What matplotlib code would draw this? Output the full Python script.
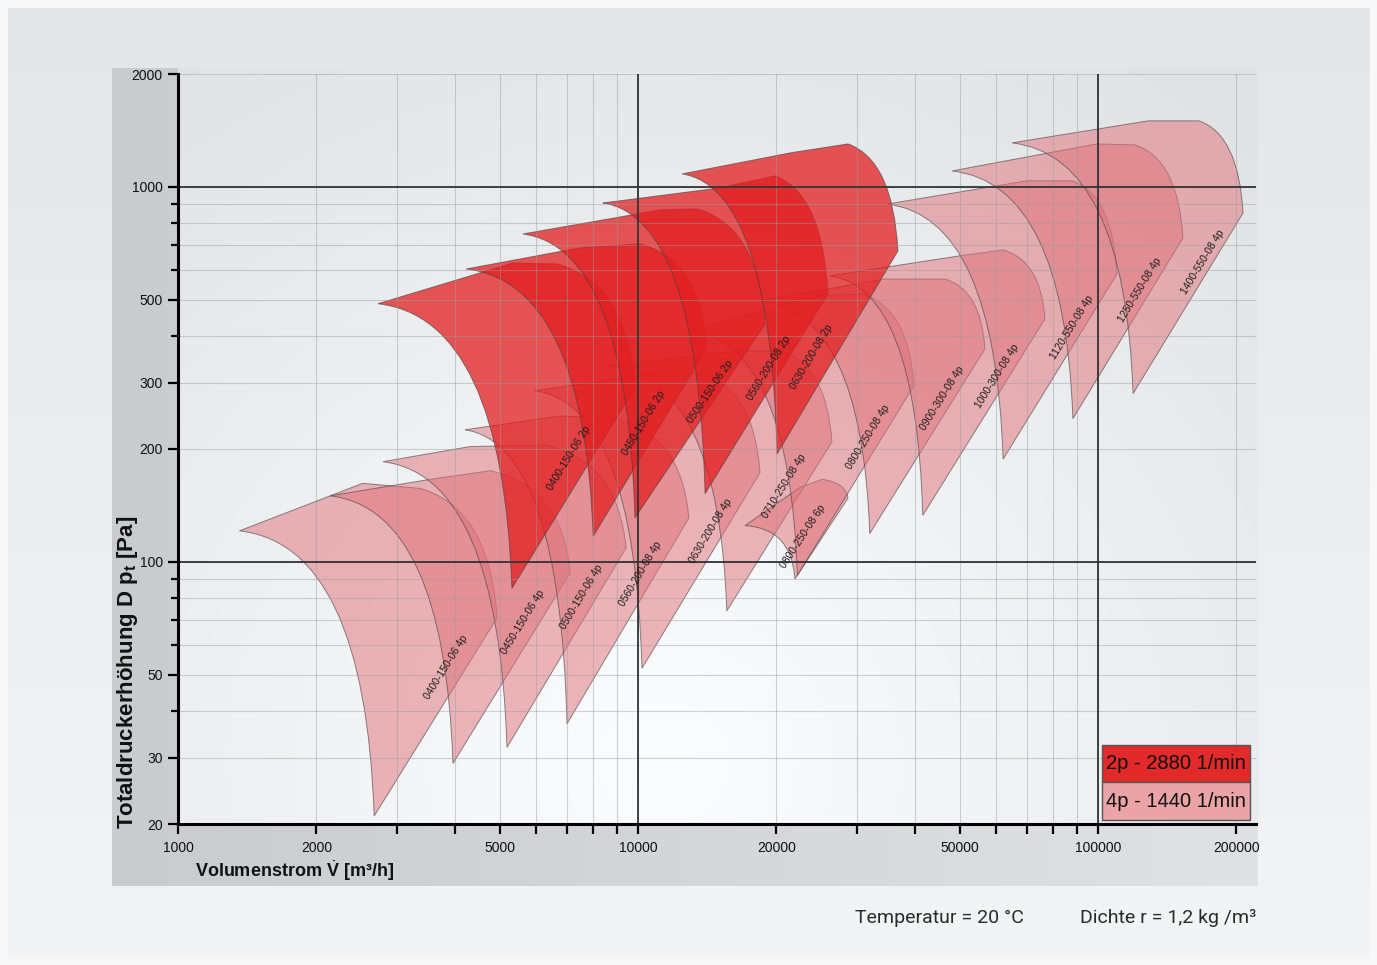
"""
Fan selection chart: working areas of the 150/200/250/300/550 series,
2-pole and 4-pole, on a log-log flow / pressure grid.
"""

import numpy as np
import matplotlib
matplotlib.use("Agg")
import matplotlib.pyplot as plt
from matplotlib.path import Path
from matplotlib.patches import PathPatch, Rectangle
from matplotlib.ticker import FixedLocator, FixedFormatter, NullFormatter

plt.rcParams["font.family"] = ["Liberation Sans", "DejaVu Sans"]
plt.rcParams["mathtext.fontset"] = "custom"
plt.rcParams["mathtext.rm"] = "Liberation Sans"
plt.rcParams["mathtext.bf"] = "Liberation Sans:bold"
plt.rcParams["mathtext.it"] = "Liberation Sans:italic"

W, H = 1377, 965

# ── fan working areas: volume flow [m³/h], total pressure [Pa] ──
# each area: left tip, top, end of top, knee, bottom tip
NAMES_4P = ["0400-150-06 4p", "0450-150-06 4p", "0500-150-06 4p",
            "0560-200-08 4p", "0630-200-08 4p", "0710-250-08 4p",
            "0800-250-08 6p", "0800-250-08 4p", "0900-300-08 4p",
            "1000-300-08 4p", "1120-550-08 4p", "1250-550-08 4p",
            "1400-550-08 4p"]
LEFT_4P = [(1360, 121), (2140, 150), (2790, 185), (4210, 225), (5970, 286),
           (8690, 333), (17090, 125), (12970, 413), (18420, 497),
           (26150, 579), (34800, 900), (48150, 1103), (65000, 1310)]
TOP_4P = [(2520, 162), (3530, 166), (4310, 203), (6770, 245), (11160, 319),
          (16250, 365), (22500, 158), (24250, 512), (34400, 568),
          (50100, 655), (70100, 1038), (99500, 1302), (128500, 1500)]
TOPEND_4P = [(3360, 157), (4770, 175), (6280, 205), (8910, 241), (13640, 319),
             (20360, 365), (25120, 166), (30700, 518), (46500, 568),
             (62200, 679), (87800, 1038), (120300, 1294), (165800, 1500)]
KNEE_4P = [(4940, 71), (7120, 93.5), (9420, 109), (12900, 131), (18420, 173),
           (26400, 209), (28610, 148), (39800, 295), (56800, 370),
           (76700, 445), (110000, 586), (153000, 731), (206700, 852)]
TIP_4P = [(2670, 21), (3960, 29), (5190, 32), (7010, 37), (10200, 52),
          (15600, 74), (21940, 90), (22200, 92), (31900, 119),
          (41600, 133), (62200, 188), (88200, 241), (119200, 281)]

NAMES_2P = ["0400-150-06 2p", "0450-150-06 2p", "0500-150-06 2p",
            "0560-200-08 2p", "0630-200-08 2p"]
LEFT_2P = [(2720, 488), (4230, 604), (5620, 749), (8390, 906), (12470, 1083)]
TOP_2P = [(5350, 627), (7480, 688), (11160, 868), (15080, 994), (21400, 1232)]
TOPEND_2P = [(6670, 623), (10100, 705), (13440, 874), (19860, 1070),
             (28610, 1302)]
KNEE_2P = [(9850, 291), (14130, 372), (18890, 431), (25880, 519), (36740, 675)]
TIP_2P = [(5320, 85), (7990, 117), (9850, 131), (13990, 152), (20060, 194)]

X_TICKS = [1000, 2000, 5000, 10000, 20000, 50000, 100000, 200000]
X_MINOR = [3000, 4000, 6000, 7000, 8000, 9000,
           30000, 40000, 60000, 70000, 80000, 90000]
Y_TICKS = [20, 30, 50, 100, 200, 300, 500, 1000, 2000]
Y_MINOR = [40, 60, 70, 80, 90, 400, 600, 700, 800, 900]
DECADES_X = [10000, 100000]
DECADES_Y = [100, 1000]

LEGEND = ["2p - 2880 1/min", "4p - 1440 1/min"]
NOTE_T = "Temperatur = 20 °C"
NOTE_D = "Dichte r = 1,2 kg /m³"

# label placement along the knee -> tip edge (fraction, shift left in px)
LABEL_T_4P = [0.25, 0.26, 0.245, 0.27, 0.30, 0.26, 0.475, 0.27, 0.27,
              0.29, 0.29, 0.29, 0.27]
LABEL_DX_4P = [20, 17, 15, 16, 14, 20, 20, 14, 12, 12, 12, 11, 11]
LABEL_T_2P = [0.35, 0.40, 0.35, 0.37, 0.52]
LABEL_DX_2P = [23, 18, 9, 14, 24]

PINK = (0.88, 0.44, 0.47, 0.50)
RED = (0.886, 0.118, 0.125, 0.75)
EDGE = (0.25, 0.25, 0.25, 0.6)


def fan_patch(left, top, top_end, knee, tip, face):
    lx, ly = np.log10(left)
    tx, ty = np.log10(top_end)
    kx, ky = np.log10(knee)
    bx, by = np.log10(tip)
    c_right = (10 ** (tx + 0.9 * (kx - tx)), 10 ** (ty + 0.15 * (ky - ty)))
    c_left = (10 ** (bx - 0.07 * (bx - lx)), 10 ** (ly + 0.05 * (by - ly)))
    verts = [left, top, top_end, c_right, knee, tip, c_left, left, left]
    codes = [Path.MOVETO, Path.LINETO, Path.LINETO, Path.CURVE3, Path.CURVE3,
             Path.LINETO, Path.CURVE3, Path.CURVE3, Path.CLOSEPOLY]
    return PathPatch(Path(verts, codes), facecolor=face, edgecolor=EDGE,
                     lw=0.7, zorder=1)


fig = plt.figure(figsize=(W / 100, H / 100), dpi=100)
fig.patch.set_facecolor("#f8f8f8")

# ── background panels ──
bg = fig.add_axes([0, 0, 1, 1])
yy = np.linspace(0, 1, 256)[:, None]
xx = np.linspace(0, 1, 256)[None, :]


def rgb(v):
    v = np.clip(v, 0, 255)
    return np.dstack([v, v + 1, v + 2]).clip(0, 255) / 255


bg.imshow(rgb(229 + 14 * yy + 0 * xx), extent=(8, 1370, 957, 8),
          aspect="auto", interpolation="bilinear")
bg.imshow(rgb(202 + 22 * xx + 0 * yy), extent=(112, 1258, 886, 68),
          aspect="auto", interpolation="bilinear")
r = np.hypot((xx - 0.45) / 0.75, (yy - 0.92) / 1.0)
bg.imshow(rgb(252 - 24 * np.clip(r, 0, 1.1)), extent=(178, 1258, 824, 68),
          aspect="auto", interpolation="bilinear")
bg.set_xlim(0, W)
bg.set_ylim(H, 0)
bg.axis("off")

# ── main chart ──
ax_w = 460 * np.log10(220) / W
ax = fig.add_axes([178 / W, 1 - 824 / H, ax_w, 750 / H])
ax.set_facecolor("none")
ax.set_xscale("log")
ax.set_yscale("log")

for i in range(len(NAMES_4P)):
    ax.add_patch(fan_patch(LEFT_4P[i], TOP_4P[i], TOPEND_4P[i],
                           KNEE_4P[i], TIP_4P[i], PINK))
for i in range(len(NAMES_2P)):
    p = fan_patch(LEFT_2P[i], TOP_2P[i], TOPEND_2P[i],
                  KNEE_2P[i], TIP_2P[i], RED)
    p.set_zorder(1.5)
    ax.add_patch(p)

ax.set_xlim(1000, 220000)
ax.set_ylim(20, 2000)

ax.xaxis.set_major_locator(FixedLocator(X_TICKS))
ax.xaxis.set_major_formatter(FixedFormatter([str(v) for v in X_TICKS]))
ax.xaxis.set_minor_locator(FixedLocator(X_MINOR))
ax.xaxis.set_minor_formatter(NullFormatter())
ax.yaxis.set_major_locator(FixedLocator(Y_TICKS))
ax.yaxis.set_major_formatter(FixedFormatter([str(v) for v in Y_TICKS]))
ax.yaxis.set_minor_locator(FixedLocator(Y_MINOR))
ax.yaxis.set_minor_formatter(NullFormatter())

ax.tick_params(which="both", direction="out", width=1.6, color="black",
               labelsize=10, labelcolor="#111111")
ax.tick_params(axis="y", which="major", length=7, pad=4)
ax.tick_params(axis="y", which="minor", length=5)
ax.tick_params(axis="x", which="both", length=7, pad=5)

for s in ("top", "right"):
    ax.spines[s].set_visible(False)
for s in ("left", "bottom"):
    ax.spines[s].set_linewidth(2.2)
    ax.spines[s].set_zorder(6)

ax.set_axisbelow(False)
ax.grid(True, which="both", color="#9c9c9c", lw=0.8, alpha=0.45)
for v in DECADES_X:
    ax.axvline(v, color="#333333", lw=1.3, zorder=3)
for v in DECADES_Y:
    ax.axhline(v, color="#333333", lw=1.3, zorder=3)


def label_fan(name, knee, tip, t, dx):
    pk = ax.transData.transform(knee)
    pb = ax.transData.transform(tip)
    ang = np.degrees(np.arctan2(pk[1] - pb[1], pk[0] - pb[0]))
    pos = pk + t * (pb - pk) - np.array([dx, 0.0])
    x, y = ax.transData.inverted().transform(pos)
    ax.text(x, y, name, rotation=ang, rotation_mode="anchor", ha="center",
            va="center", fontsize=7.5, color="#1e1e1e", zorder=4)


for i, name in enumerate(NAMES_4P):
    label_fan(name, KNEE_4P[i], TIP_4P[i], LABEL_T_4P[i], LABEL_DX_4P[i])
for i, name in enumerate(NAMES_2P):
    label_fan(name, KNEE_2P[i], TIP_2P[i], LABEL_T_2P[i], LABEL_DX_2P[i])

# ── legend boxes ──
lx0, lw = (1102 - 178) / (ax_w * W), 148 / (ax_w * W)
boxes = [(0.056, 0.0493, (0.886, 0.165, 0.165)),
         (0.0053, 0.0507, (0.918, 0.64, 0.65))]
for text, (y0, h, col) in zip(LEGEND, boxes):
    ax.add_patch(Rectangle((lx0, y0), lw, h, transform=ax.transAxes,
                           facecolor=col, edgecolor="#555555", lw=1.0,
                           zorder=7, clip_on=False))
    ax.text(lx0 + lw / 2, y0 + h / 2, text, transform=ax.transAxes,
            ha="center", va="center", fontsize=14.5, color="#111111",
            zorder=8)

# ── axis titles and notes ──
fig.text(195 / W, 1 - 871 / H, r"Volumenstrom $\dot{\mathbf{V}}$ [m³/h]",
         fontsize=13, fontweight="bold", ha="left", va="center",
         color="#111111")
fig.text(128 / W, 1 - 829 / H,
         r"Totaldruckerhöhung D $\mathbf{p}_\mathbf{t}$ [Pa]",
         fontsize=16, fontweight="bold", rotation=90, ha="center",
         va="bottom", color="#111111")
fig.text(855 / W, 1 - 918 / H, NOTE_T, fontsize=14, ha="left", va="center",
         color="#2a2a2a", family=["Roboto", "DejaVu Sans"])
fig.text(1080 / W, 1 - 918 / H, NOTE_D, fontsize=14, ha="left", va="center",
         color="#2a2a2a", family=["Roboto", "DejaVu Sans"])

fig.savefig("out.png", dpi=100)
plt.close(fig)
